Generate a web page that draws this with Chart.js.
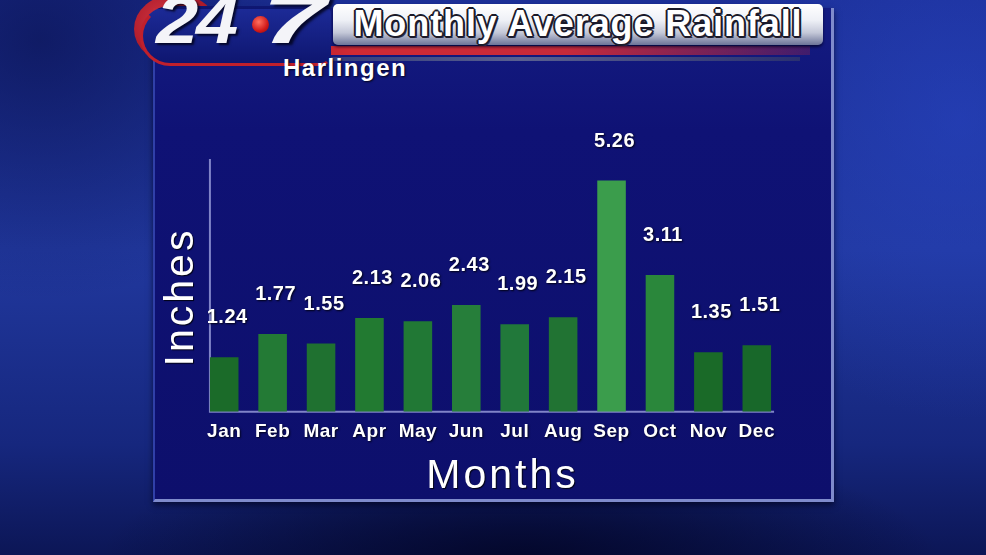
<!DOCTYPE html>
<html>
<head>
<meta charset="utf-8">
<script src="https://cdn.jsdelivr.net/npm/chart.js@4/dist/chart.umd.min.js"></script>
<style>
  html, body { margin: 0; padding: 0; }
  body {
    width: 986px; height: 555px; overflow: hidden; position: relative;
    background:
      radial-gradient(ellipse 420px 120px at 520px 560px, rgba(3,6,40,0.95), rgba(3,6,40,0) 100%),
      radial-gradient(ellipse 300px 260px at 40px 40px, rgba(10,18,80,0.7), rgba(10,18,80,0) 100%),
      radial-gradient(ellipse 260px 300px at 960px 120px, rgba(40,70,200,0.5), rgba(40,70,200,0) 100%),
      linear-gradient(180deg, #1c2f96 0%, #21389e 45%, #16277e 80%, #0c1656 100%);
    font-family: "Liberation Sans", Arial, sans-serif;
  }
  #panel {
    position: absolute; left: 153px; top: 8px; width: 676px; height: 491px;
    background: linear-gradient(180deg, #141c82 0%, #0f1275 25%, #0d0f6c 100%);
    border-left: 2px solid #3040a8;
    border-right: 3px solid #7f8bcc;
    border-bottom: 3px solid #7f8bcc;
    box-shadow: 0 3px 6px rgba(0,0,20,0.6);
  }
  #redstripe {
    position: absolute; left: 200px; top: 46px; width: 610px; height: 9px;
    background: linear-gradient(90deg, #8a1020 0%, #d02a34 25%, #c82a3a 60%, rgba(200,40,60,0.25) 100%);
  }
  #greyline {
    position: absolute; left: 240px; top: 57px; width: 560px; height: 4px;
    background: linear-gradient(90deg, #202a70 0%, #5a6090 50%, #2a3070 100%);
  }
  #banner {
    position: absolute; left: 333px; top: 4px; width: 490px; height: 41px;
    border-radius: 5px;
    background: linear-gradient(180deg, #ffffff 0%, #eef0f6 40%, #c4c8d8 70%, #6c7498 100%);
    box-shadow: 0 2px 3px rgba(0,0,30,0.7);
  }
  #bannerText {
    position: absolute; left: 333px; top: 4px; width: 490px; height: 40px;
    text-align: center; white-space: nowrap;
    font-family: "Liberation Sans", Arial, sans-serif;
    font-weight: bold; font-size: 36px; line-height: 40px; letter-spacing: 0.9px;
    color: #ffffff;
    text-shadow: -2px 0 #1a1a2a, 2px 0 #1a1a2a, 0 -2px #1a1a2a, 0 2px #1a1a2a,
                 -1px -1px #1a1a2a, 1px 1px #1a1a2a, -1px 1px #1a1a2a, 1px -1px #1a1a2a, 2px 2px #30304a;
  }
  #logoBox {
    position: absolute; left: 140px; top: 6px; width: 185px; height: 54px;
    border-radius: 30px 8px 10px 30px;
    background: linear-gradient(180deg, #1c2a96 0%, #0e1670 100%);
    border: 3px solid #c0202c; border-top-color: rgba(0,0,0,0); border-right-color: rgba(0,0,0,0);
  }
  #globe {
    position: absolute; left: 134px; top: -6px; width: 84px; height: 70px; border-radius: 50%;
    background: radial-gradient(ellipse at 40% 40%, #e03a40 0%, #b81c28 55%, #6a0c18 100%);
    opacity: 0.95;
  }
  .logoNum {
    position: absolute; top: -12px; height: 64px; line-height: 64px;
    font-family: "Liberation Sans", Arial, sans-serif; font-weight: bold; font-style: italic;
    font-size: 66px; letter-spacing: -2px; color: #f4f4f8;
    transform-origin: left top;
    text-shadow: 2px 2px 2px rgba(0,0,20,0.8);
  }
  #dot {
    position: absolute; left: 252px; top: 16px; width: 17px; height: 17px; border-radius: 50%;
    background: radial-gradient(circle at 40% 35%, #ff7060, #d01818 60%, #800a0a);
  }
  #city {
    position: absolute; left: 283px; top: 54px;
    font-family: "Liberation Sans", Arial, sans-serif; font-weight: bold; font-size: 24px;
    letter-spacing: 1.5px; color: #ffffff; text-shadow: 1px 1px 2px rgba(0,0,0,0.8);
  }
  #chart { position: absolute; left: 0; top: 0; }
</style>
</head>
<body>
<div id="panel"></div>
<div id="redstripe"></div>
<div id="greyline"></div>
<div id="globe"></div>
<div id="logoBox"></div>
<div class="logoNum" style="left:156px; transform: scaleX(1.15);">24</div>
<div id="dot"></div>
<div class="logoNum" style="left:262px; transform: scaleX(1.75);">7</div>
<div id="banner"></div>
<div id="bannerText">Monthly Average Rainfall</div>
<div id="city">Harlingen</div>
<canvas id="chart" width="986" height="555"></canvas>
<script>
// ---- data ----
const months = ['Jan', 'Feb', 'Mar', 'Apr', 'May', 'Jun', 'Jul', 'Aug', 'Sep', 'Oct', 'Nov', 'Dec'];
const rainfall = [1.24, 1.77, 1.55, 2.13, 2.06, 2.43, 1.99, 2.15, 5.26, 3.11, 1.35, 1.51];
const valueLabels = ['1.24', '1.77', '1.55', '2.13', '2.06', '2.43', '1.99', '2.15', '5.26', '3.11', '1.35', '1.51'];
const yAxisTitle = 'Inches';
const xAxisTitle = 'Months';
const yMin = 0;
const yMax = 5.75;

// ---- styles ----
const barColors = ['#1b6b29', '#237a35', '#1f7130', '#227a31', '#217835', '#267e3a',
                   '#21783a', '#217333', '#3b9d4c', '#2a873b', '#1a6a28', '#18682a'];
const fontFamily = '"Liberation Sans", Arial, sans-serif';

const tvPlugin = {
  id: 'tvPlugin',
  beforeDraw(chart) {
    const ctx = chart.ctx;
    ctx.letterSpacing = '0.5px';
    ctx.shadowColor = 'rgba(0,0,10,0.85)';
    ctx.shadowBlur = 2;
    ctx.shadowOffsetX = 1;
    ctx.shadowOffsetY = 1;
  },
  beforeDatasetsDraw(chart) {
    const ctx = chart.ctx;
    ctx.shadowColor = 'rgba(0,0,0,0)';
    const meta = chart.getDatasetMeta(0);
    const first = meta.data[0];
    const last = meta.data[meta.data.length - 1];
    const x0 = first.x - first.width / 2;
    const x1 = last.x + last.width / 2 + 3;
    const yBase = chart.scales.y.getPixelForValue(yMin);
    const yTop = chart.scales.y.getPixelForValue(yMax);
    ctx.save();
    ctx.strokeStyle = '#8084c8';
    ctx.lineWidth = 2;
    ctx.beginPath();
    ctx.moveTo(x0, yTop);
    ctx.lineTo(x0, yBase);
    ctx.lineTo(x1, yBase);
    ctx.stroke();
    ctx.restore();
  },
  afterDatasetsDraw(chart) {
    const ctx = chart.ctx;
    const meta = chart.getDatasetMeta(0);
    const area = chart.chartArea;
    ctx.save();
    ctx.shadowColor = 'rgba(0,0,10,0.9)';
    ctx.shadowBlur = 2;
    ctx.shadowOffsetX = 1;
    ctx.shadowOffsetY = 1;
    ctx.fillStyle = '#ffffff';
    ctx.textAlign = 'center';
    ctx.textBaseline = 'alphabetic';
    ctx.font = 'bold 20px ' + fontFamily;
    ctx.letterSpacing = '0.5px';
    meta.data.forEach((bar, i) => {
      ctx.fillText(valueLabels[i], bar.x + 3, bar.y - 34);
    });
    // axis titles
    ctx.font = '41px ' + fontFamily;
    ctx.letterSpacing = '3px';
    ctx.shadowBlur = 1;
    ctx.fillText(xAxisTitle, (area.left + area.right) / 2 + 12, area.bottom + 76);
    ctx.translate(area.left - 7, 297);
    ctx.rotate(-Math.PI / 2);
    ctx.fillText(yAxisTitle, 0, 0);
    ctx.restore();
  },
  afterDraw(chart) {
    chart.ctx.letterSpacing = '0px';
  }
};

new Chart(document.getElementById('chart'), {
  type: 'bar',
  data: {
    labels: months,
    datasets: [{
      data: rainfall,
      backgroundColor: barColors,
      borderWidth: 0,
      barPercentage: 0.59,
      categoryPercentage: 1.0
    }]
  },
  options: {
    responsive: false,
    animation: false,
    layout: { padding: { left: 200, right: 205, top: 159, bottom: 102.5 } },
    plugins: { legend: { display: false }, tooltip: { enabled: false }, title: { display: false } },
    scales: {
      x: {
        grid: { display: false, drawTicks: false },
        border: { display: false },
        ticks: { color: '#ffffff', padding: 9, font: { family: fontFamily, size: 19, weight: 'bold' } }
      },
      y: { display: false, min: yMin, max: yMax }
    }
  },
  plugins: [tvPlugin]
});
</script>
</body>
</html>
